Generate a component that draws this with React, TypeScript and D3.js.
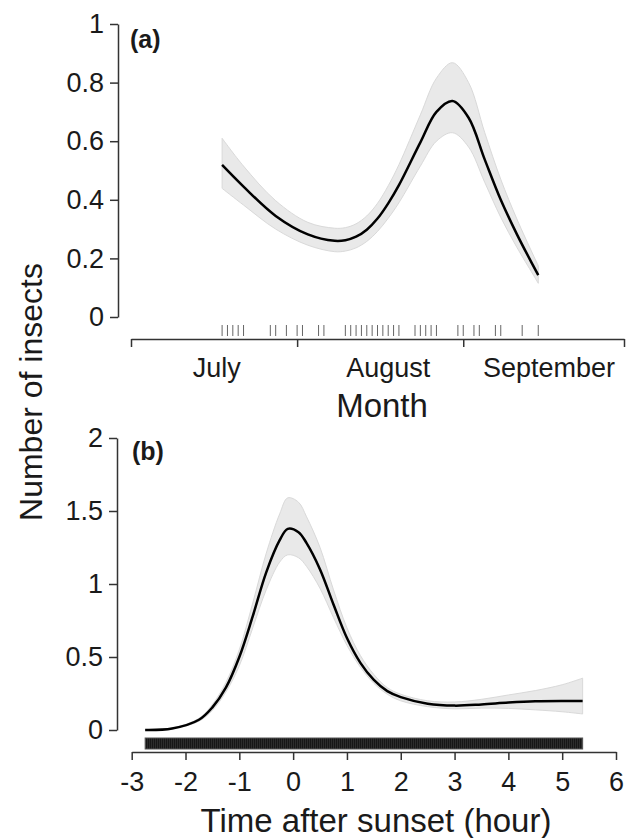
import * as d3 from "d3";
import React, { useRef, useEffect } from "react";

const width = 630;
const height = 838;
const font = "'Liberation Sans', Arial, Helvetica, sans-serif";

// (a) seasonal smooth, by date
const seasonDates = ["2016-07-18", "2016-07-22", "2016-07-28", "2016-08-03", "2016-08-08", "2016-08-10", "2016-08-12", "2016-08-14", "2016-08-16", "2016-08-18", "2016-08-20", "2016-08-24", "2016-08-27", "2016-08-30", "2016-09-02", "2016-09-05", "2016-09-08", "2016-09-11", "2016-09-14", "2016-09-15"];
const seasonFit = [0.519, 0.445, 0.345, 0.282, 0.26, 0.262, 0.274, 0.298, 0.336, 0.388, 0.45, 0.596, 0.7, 0.737, 0.68, 0.538, 0.4, 0.283, 0.177, 0.143];
const seasonLower = [0.439, 0.382, 0.3, 0.245, 0.223, 0.225, 0.236, 0.258, 0.292, 0.337, 0.39, 0.515, 0.6, 0.629, 0.58, 0.46, 0.34, 0.238, 0.146, 0.115];
const seasonUpper = [0.61, 0.515, 0.397, 0.323, 0.303, 0.305, 0.318, 0.345, 0.388, 0.448, 0.52, 0.69, 0.815, 0.868, 0.8, 0.63, 0.47, 0.335, 0.214, 0.175];
const seasonRug = ["2016-07-18", "2016-07-19", "2016-07-20", "2016-07-21", "2016-07-22", "2016-07-27", "2016-07-28", "2016-07-30", "2016-08-01", "2016-08-02", "2016-08-05", "2016-08-06", "2016-08-10", "2016-08-11", "2016-08-12", "2016-08-13", "2016-08-14", "2016-08-15", "2016-08-16", "2016-08-17", "2016-08-18", "2016-08-19", "2016-08-20", "2016-08-23", "2016-08-24", "2016-08-25", "2016-08-26", "2016-08-27", "2016-08-31", "2016-09-01", "2016-09-03", "2016-09-04", "2016-09-07", "2016-09-08", "2016-09-12", "2016-09-15"];
const monthTicks = ["2016-07-01", "2016-08-01", "2016-09-01", "2016-10-01"];
const monthNames = ["July", "August", "September"];
const monthNameDates = ["2016-07-17", "2016-08-18", "2016-09-17"];
const seasonYTicks = [0, 0.2, 0.4, 0.6, 0.8, 1];

// (b) time after sunset
const hours = [-2.75, -2.25, -1.75, -1.5, -1.25, -1, -0.75, -0.5, -0.25, -0.1, 0.1, 0.25, 0.5, 0.75, 1, 1.25, 1.5, 1.75, 2, 2.5, 3, 3.5, 4, 4.5, 5, 5.38];
const hourFit = [0, 0.01, 0.07, 0.155, 0.29, 0.5, 0.78, 1.08, 1.3, 1.378, 1.355, 1.28, 1.1, 0.86, 0.63, 0.46, 0.343, 0.266, 0.225, 0.18, 0.167, 0.175, 0.188, 0.197, 0.199, 0.198];
const hourLower = [0, 0.008, 0.06, 0.135, 0.26, 0.44, 0.7, 0.96, 1.15, 1.2, 1.18, 1.12, 0.97, 0.77, 0.58, 0.43, 0.32, 0.245, 0.2, 0.16, 0.145, 0.15, 0.148, 0.138, 0.125, 0.11];
const hourUpper = [0.002, 0.013, 0.08, 0.175, 0.325, 0.55, 0.87, 1.21, 1.48, 1.59, 1.56, 1.46, 1.25, 0.96, 0.7, 0.51, 0.38, 0.29, 0.245, 0.2, 0.192, 0.21, 0.24, 0.27, 0.31, 0.355];
const hourRugRange = [-2.75, 5.38];
const hourTicks = [-3, -2, -1, 0, 1, 2, 3, 4, 5, 6];
const hourYTicks = [0, 0.5, 1, 1.5, 2];

const parse = d3.timeParse("%Y-%m-%d");
const smooth = d3.curveCatmullRom.alpha(0.5);

function Chart() {
  const ref = useRef(null);

  useEffect(() => {
    draw();
  }, []); // eslint-disable-line react-hooks/exhaustive-deps

  const draw = () => {
    const svg = d3.select(ref.current);
    svg.selectAll("*").remove();

    svg.append("defs")
      .append("pattern")
      .attr("id", "rug")
      .attr("patternUnits", "userSpaceOnUse")
      .attr("width", 2)
      .attr("height", 20)
      .call((p) => {
        p.append("rect").attr("width", 2).attr("height", 20).attr("fill", "#2c2c2c");
        p.append("rect").attr("width", 1).attr("height", 20).attr("fill", "#161616");
      });

    const styleAxis = (g, withText = true) => {
      g.select(".domain").attr("stroke", "#333").attr("stroke-width", 1.5);
      g.selectAll(".tick line").attr("stroke", "#333").attr("stroke-width", 1.5);
      g.selectAll(".tick text")
        .attr("fill", "#1a1a1a")
        .style("font-family", font)
        .style("font-size", "27px");
      if (!withText) g.selectAll(".tick text").remove();
    };

    // ---------- panel (a)
    const xA = d3.scaleTime()
      .domain([parse(monthTicks[0]), parse(monthTicks[3])])
      .range([131, 624]);
    const yA = d3.scaleLinear().domain([0, 1]).range([317, 24]);

    const a = svg.append("g");
    const season = seasonDates.map((d, i) => ({
      x: parse(d), fit: seasonFit[i], lo: seasonLower[i], hi: seasonUpper[i],
    }));

    a.append("path")
      .datum(season)
      .attr("fill", "#e9e9e9")
      .attr("stroke", "#d9d9d9")
      .attr("stroke-width", 1)
      .attr("d", d3.area().x((d) => xA(d.x)).y0((d) => yA(d.lo)).y1((d) => yA(d.hi)).curve(smooth));

    a.append("path")
      .datum(season)
      .attr("fill", "none")
      .attr("stroke", "#000")
      .attr("stroke-width", 2.5)
      .attr("d", d3.line().x((d) => xA(d.x)).y((d) => yA(d.fit)).curve(smooth));

    a.selectAll(".rug")
      .data(seasonRug)
      .join("line")
      .attr("x1", (d) => xA(parse(d)))
      .attr("x2", (d) => xA(parse(d)))
      .attr("y1", 325)
      .attr("y2", 336)
      .attr("stroke", "#666")
      .attr("stroke-width", 1);

    a.append("g")
      .attr("transform", "translate(118,0)")
      .call(d3.axisLeft(yA).tickValues(seasonYTicks).tickFormat((d) => String(d)).tickSize(8).tickSizeOuter(0).tickPadding(6))
      .call(styleAxis);

    a.append("g")
      .attr("transform", "translate(0,339)")
      .call(d3.axisBottom(xA).tickValues(monthTicks.map(parse)).tickSize(8).tickSizeOuter(0))
      .call((g) => styleAxis(g, false));

    a.selectAll(".month")
      .data(monthNames)
      .join("text")
      .attr("x", (d, i) => xA(parse(monthNameDates[i])))
      .attr("y", 377)
      .attr("text-anchor", "middle")
      .attr("fill", "#1a1a1a")
      .style("font-family", font)
      .style("font-size", "27px")
      .text((d) => d);

    a.append("text")
      .attr("x", 382)
      .attr("y", 417)
      .attr("text-anchor", "middle")
      .attr("fill", "#1a1a1a")
      .style("font-family", font)
      .style("font-size", "33px")
      .text("Month");

    a.append("text")
      .attr("x", 130)
      .attr("y", 48)
      .attr("fill", "#1a1a1a")
      .style("font-family", font)
      .style("font-size", "25px")
      .style("font-weight", "bold")
      .text("(a)");

    // ---------- panel (b)
    const xB = d3.scaleLinear().domain([-3, 6]).range([131.7, 616]);
    const yB = d3.scaleLinear().domain([0, 2]).range([730, 438]);

    const b = svg.append("g");
    const night = hours.map((h, i) => ({ x: h, fit: hourFit[i], lo: hourLower[i], hi: hourUpper[i] }));

    b.append("path")
      .datum(night)
      .attr("fill", "#e9e9e9")
      .attr("stroke", "#d9d9d9")
      .attr("stroke-width", 1)
      .attr("d", d3.area().x((d) => xB(d.x)).y0((d) => yB(d.lo)).y1((d) => yB(d.hi)).curve(smooth));

    b.append("path")
      .datum(night)
      .attr("fill", "none")
      .attr("stroke", "#000")
      .attr("stroke-width", 2.5)
      .attr("d", d3.line().x((d) => xB(d.x)).y((d) => yB(d.fit)).curve(smooth));

    b.append("rect")
      .attr("x", xB(hourRugRange[0]))
      .attr("width", xB(hourRugRange[1]) - xB(hourRugRange[0]))
      .attr("y", 738)
      .attr("height", 11)
      .attr("fill", "url(#rug)")
      .attr("stroke", "#555")
      .attr("stroke-width", 1);

    b.append("g")
      .attr("transform", "translate(117,0)")
      .call(d3.axisLeft(yB).tickValues(hourYTicks).tickFormat((d) => String(d)).tickSize(8).tickSizeOuter(0).tickPadding(6))
      .call(styleAxis);

    b.append("g")
      .attr("transform", "translate(0,752)")
      .call(d3.axisBottom(xB).tickValues(hourTicks).tickFormat((d) => String(d)).tickSize(8).tickSizeOuter(0).tickPadding(12))
      .call(styleAxis);

    b.append("text")
      .attr("x", 376)
      .attr("y", 832)
      .attr("text-anchor", "middle")
      .attr("fill", "#1a1a1a")
      .style("font-family", font)
      .style("font-size", "33px")
      .text("Time after sunset (hour)");

    b.append("text")
      .attr("x", 132)
      .attr("y", 460)
      .attr("fill", "#1a1a1a")
      .style("font-family", font)
      .style("font-size", "25px")
      .style("font-weight", "bold")
      .text("(b)");

    // shared y title
    svg.append("text")
      .attr("transform", "translate(42,392) rotate(-90)")
      .attr("text-anchor", "middle")
      .attr("fill", "#1a1a1a")
      .style("font-family", font)
      .style("font-size", "32px")
      .text("Number of insects");
  };

  return <svg ref={ref} width={width} height={height} style={{ display: "block" }}></svg>;
}

export default function App() {
  return (
    <div style={{ position: "absolute", left: 0, top: 0, background: "#fff" }}>
      <Chart />
    </div>
  );
}
